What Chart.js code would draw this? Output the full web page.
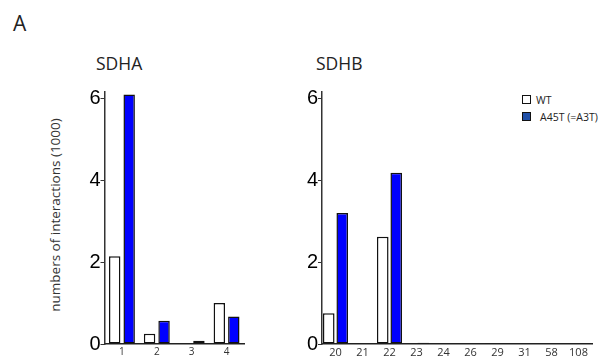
<!DOCTYPE html>
<html>
<head>
<meta charset="utf-8">
<script src="https://cdn.jsdelivr.net/npm/chart.js@4.4.1/dist/chart.umd.min.js"></script>
<style>
    body { margin: 0; width: 603px; height: 360px; background: #fff; position: relative; overflow: hidden; font-family: "Open Sans", sans-serif; }
    .panel { position: absolute; top: 80px; height: 280px; }
    #panelA { left: 0; width: 250px; }
    #panelB { left: 290px; width: 313px; }
    .label { position: absolute; color: #222; white-space: nowrap; }
    #letter { left: 13px; top: 9px; font-size: 21px; }
    #titleA { left: 96px; top: 51px; font-size: 17.5px; }
    #titleB { left: 316px; top: 51px; font-size: 17.5px; }
    #ytitle { left: 55px; top: 215px; font-size: 13.5px; color: #333; transform: translate(-50%, -50%) rotate(-90deg); }
    #legend { position: absolute; left: 522px; top: 91px; font-size: 10.5px; color: #222; }
    .item { display: flex; align-items: center; height: 17px; }
    .swatch { width: 7px; height: 7px; border: 1px solid #111; margin-right: 5px; }
</style>
</head>
<body>
<div class="label" id="letter">A</div>
<div class="label" id="titleA">SDHA</div>
<div class="label" id="titleB">SDHB</div>
<div class="label" id="ytitle">numbers of interactions (1000)</div>
<div id="legend"></div>
<div class="panel" id="panelA"><canvas id="chartA"></canvas></div>
<div class="panel" id="panelB"><canvas id="chartB"></canvas></div>

<script>
// valeurs (x1000 interactions)
const seriesNames = ["WT", "A45T (=A3T)"];

const sdhaCategories = ["1", "2", "3", "4"];
const sdhaWT = [2.14, 0.25, 0, 1.0];
const sdhaA45T = [6.09, 0.57, 0.08, 0.67];

const sdhbCategories = ["20", "21", "22", "23", "24", "26", "29", "31", "58", "108"];
const sdhbWT = [0.75, 0.02, 2.62, 0, 0.01, 0.01, 0.02, 0.01, 0.01, 0.01];
const sdhbA45T = [3.2, 0.01, 4.18, 0.03, 0.01, 0.01, 0.02, 0.01, 0.01, 0.02];

const yTicks = [0, 2, 4, 6];

const WT_FILL = "#ffffff";
const MUT_FILL = "#0000ff";
const LEGEND_MUT = "#2050a8";

function makeDatasets(wt, mut, catPct, barPct) {
    return [
        { label: seriesNames[0], data: wt, backgroundColor: WT_FILL, borderColor: "#111", borderWidth: 1.5, borderSkipped: false, categoryPercentage: catPct, barPercentage: barPct },
        { label: seriesNames[1], data: mut, backgroundColor: MUT_FILL, borderColor: "#111", borderWidth: 1.5, borderSkipped: false, categoryPercentage: catPct, barPercentage: barPct },
    ];
}

function buildChart(canvasId, labels, wt, mut, opts) {
    return new Chart(document.getElementById(canvasId), {
        type: "bar",
        data: { labels, datasets: makeDatasets(wt, mut, opts.catPct, opts.barPct) },
        options: {
            responsive: true,
            maintainAspectRatio: false,
            animation: false,
            layout: { padding: { top: 9, right: opts.padRight, left: 0, bottom: 0 } },
            plugins: { legend: { display: false }, tooltip: { enabled: false } },
            scales: {
                x: {
                    grid: { display: false, drawTicks: false },
                    border: { display: true, color: "#222", width: 1.5 },
                    ticks: { color: "#333", font: { family: "Open Sans", size: opts.xFont }, padding: 2, maxRotation: 0, autoSkip: false },
                    afterFit: (scale) => { scale.height = 16; },
                },
                y: {
                    min: 0,
                    max: 6.15,
                    grid: { display: true, drawOnChartArea: false, tickLength: 4, color: "#333", lineWidth: 1 },
                    border: { display: true, color: "#333", width: 1.5 },
                    afterBuildTicks: (scale) => { scale.ticks = yTicks.map((v) => ({ value: v })); },
                    ticks: { color: "#000", font: { family: "Liberation Sans", size: 20 }, padding: 0 },
                    afterFit: (scale) => { scale.width = opts.yWidth; },
                },
            },
        },
    });
}

function buildLegend() {
    const legend = document.getElementById("legend");
    const fills = [WT_FILL, LEGEND_MUT];
    seriesNames.forEach((name, i) => {
        const item = document.createElement("div");
        item.className = "item";
        const sw = document.createElement("span");
        sw.className = "swatch";
        sw.style.background = fills[i];
        if (i === 1) sw.style.marginRight = "9px";
        const txt = document.createElement("span");
        txt.textContent = name;
        item.appendChild(sw);
        item.appendChild(txt);
        legend.appendChild(item);
    });
}

buildChart("chartA", sdhaCategories, sdhaWT, sdhaA45T, { yWidth: 104.5, padRight: 6, catPct: 0.83, barPct: 0.79, xFont: 10 });
buildChart("chartB", sdhbCategories, sdhbWT, sdhbA45T, { yWidth: 32, padRight: 11, catPct: 1.0, barPct: 0.86, xFont: 11 });
buildLegend();
</script>
</body>
</html>
